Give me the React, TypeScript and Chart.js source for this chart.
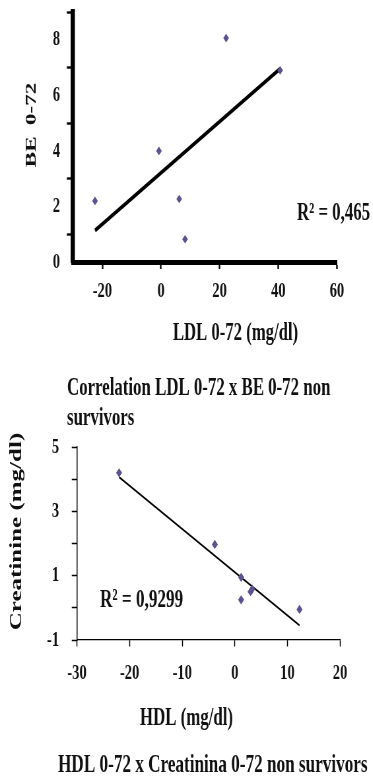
import React, { useEffect, useRef } from 'react';
import { Chart, registerables } from 'chart.js';

Chart.register(...registerables);

// LDL 0-72 vs BE 0-72, non survivors
const ldlValues = [-22.5, -0.7, 6.2, 8.2, 22.2, 40.6];
const beValues = [2.2, 4.0, 2.27, 0.82, 8.06, 6.9];
const ldlTicks = [-20, 0, 20, 40, 60];
const beTicks = [0, 1, 2, 3, 4, 5, 6, 7, 8, 9];
const beTickLabels = [0, 2, 4, 6, 8];
const beR2 = 'R² = 0,465';

// HDL 0-72 vs Creatinine 0-72, non survivors
const hdlValues = [-22.0, -3.8, 1.2, 1.2, 3.0, 3.3, 12.3];
const creatinineValues = [4.2, 1.97, 0.95, 0.25, 0.5, 0.58, -0.05];
const hdlTicks = [-30, -20, -10, 0, 10, 20];
const creatinineTicks = [-1, 0, 1, 2, 3, 4, 5];
const creatinineTickLabels = [-1, 1, 3, 5];
const creatinineR2 = 'R² = 0,9299';

// The figure is printed horizontally condensed: each canvas is drawn wider
// and squeezed back to the page width.
const SQUEEZE = 0.66;
const PAGE_W = 373;
const LOGICAL_W = Math.round(PAGE_W / SQUEEZE);
const sx = (v: number) => v / SQUEEZE;
const FONT = '"Liberation Serif", "Times New Roman", serif';
const INK = '#111';
const MARKER = '#5d5190';

type TextItem = { text: string; x: number; y: number; size: number; align: CanvasTextAlign; rotate?: boolean };

type PanelSpec = {
  height: number;
  xs: number[];
  ys: number[];
  xMin: number;
  xMax: number;
  xTicks: number[];
  yMin: number;
  yMax: number;
  yTicks: number[];
  yLabels: number[];
  yMarkEvery: (v: number) => boolean;
  area: { left: number; right: number; top: number; bottom: number };
  xAxisWidth: number;
  yAxisWidth: number;
  tickWidth: number;
  tickFont: number;
  xTick: { length: number; padding: number };
  yTick: { length: number; padding: number };
  trendWidth: number;
  pointRadius: number;
  texts: TextItem[];
};

function fitLine(xs: number[], ys: number[]) {
  const n = xs.length;
  const mx = xs.reduce((a, b) => a + b, 0) / n;
  const my = ys.reduce((a, b) => a + b, 0) / n;
  let sxy = 0;
  let sxx = 0;
  for (let i = 0; i < n; i++) {
    sxy += (xs[i] - mx) * (ys[i] - my);
    sxx += (xs[i] - mx) * (xs[i] - mx);
  }
  const slope = sxy / sxx;
  const icpt = my - slope * mx;
  const lo = Math.min(...xs);
  const hi = Math.max(...xs);
  return [
    { x: lo, y: icpt + slope * lo },
    { x: hi, y: icpt + slope * hi },
  ];
}

const textPlugin = {
  id: 'freeText',
  afterDraw(chart: any, _args: any, opts: any) {
    const ctx: CanvasRenderingContext2D = chart.ctx;
    const items: TextItem[] = opts.items || [];
    ctx.save();
    ctx.fillStyle = INK;
    ctx.textBaseline = 'middle';
    for (const t of items) {
      ctx.font = `bold ${t.size}px ${FONT}`;
      ctx.textAlign = t.align;
      if (t.rotate) {
        ctx.save();
        ctx.translate(t.x, t.y);
        ctx.rotate(-Math.PI / 2);
        ctx.fillText(t.text, 0, 0);
        ctx.restore();
      } else {
        ctx.fillText(t.text, t.x, t.y);
      }
    }
    ctx.restore();
  },
};

function buildChart(canvas: HTMLCanvasElement, s: PanelSpec) {
  const points = s.xs.map((x, i) => ({ x, y: s.ys[i] }));
  const tickFont = { family: FONT, size: s.tickFont, weight: 'bold' as const };
  return new Chart(canvas, {
    type: 'scatter',
    data: {
      datasets: [
        {
          data: points,
          pointStyle: 'rectRot',
          pointRadius: s.pointRadius,
          backgroundColor: MARKER,
          borderColor: MARKER,
          borderWidth: 0,
          showLine: false,
        },
        {
          data: fitLine(s.xs, s.ys),
          showLine: true,
          borderColor: '#000',
          borderWidth: s.trendWidth,
          pointRadius: 0,
          tension: 0,
        },
      ],
    },
    options: {
      responsive: false,
      animation: false,
      devicePixelRatio: 1,
      events: [],
      layout: {
        padding: { left: 0, top: s.area.top, right: LOGICAL_W - s.area.right, bottom: 0 },
      },
      plugins: {
        legend: { display: false },
        tooltip: { enabled: false },
        title: { display: false },
        freeText: { items: s.texts },
      } as any,
      scales: {
        x: {
          type: 'linear',
          min: s.xMin,
          max: s.xMax,
          afterBuildTicks: (sc: any) => {
            sc.ticks = s.xTicks.map((v) => ({ value: v }));
          },
          afterFit: (sc: any) => {
            sc.height = s.height - s.area.bottom;
            sc.paddingLeft = 0;
            sc.paddingRight = 0;
          },
          ticks: {
            font: tickFont,
            color: INK,
            padding: s.xTick.padding,
            maxRotation: 0,
            autoSkip: false,
            callback: (v: any) => String(v),
          },
          grid: {
            drawOnChartArea: false,
            drawTicks: true,
            tickLength: s.xTick.length,
            tickWidth: s.tickWidth,
            tickColor: '#000',
          },
          border: { display: true, color: '#000', width: s.xAxisWidth },
        },
        y: {
          type: 'linear',
          min: s.yMin,
          max: s.yMax,
          afterBuildTicks: (sc: any) => {
            sc.ticks = s.yTicks.map((v) => ({ value: v }));
          },
          afterFit: (sc: any) => {
            sc.width = s.area.left;
            sc.paddingTop = 0;
            sc.paddingBottom = 0;
          },
          ticks: {
            font: tickFont,
            color: INK,
            padding: s.yTick.padding,
            autoSkip: false,
            callback: (v: any) => (s.yLabels.includes(v) ? String(v) : ''),
          },
          grid: {
            drawOnChartArea: false,
            drawTicks: true,
            tickLength: s.yTick.length,
            tickWidth: s.tickWidth,
            tickColor: (c: any) => (s.yMarkEvery(c.tick.value) ? '#000' : 'rgba(0,0,0,0)'),
          },
          border: { display: true, color: '#000', width: s.yAxisWidth },
        },
      },
    },
    plugins: [textPlugin],
  });
}

const ldlPanel: PanelSpec = {
  height: 430,
  xs: ldlValues,
  ys: beValues,
  xMin: -30,
  xMax: 60,
  xTicks: ldlTicks,
  yMin: 0,
  yMax: 9,
  yTicks: beTicks,
  yLabels: beTickLabels,
  yMarkEvery: (v) => v % 2 !== 0,
  area: { left: sx(73), right: sx(337), top: 12, bottom: 262 },
  xAxisWidth: 5,
  yAxisWidth: 6.5,
  tickWidth: 2.4,
  tickFont: 22,
  xTick: { length: 7, padding: 9 },
  yTick: { length: sx(4) + 3.3, padding: sx(13) - sx(4) - 3.3 },
  trendWidth: 4,
  pointRadius: 4.3,
  texts: [
    { text: 'BE  0-72', x: sx(32), y: 125, size: 23, align: 'center', rotate: true },
    { text: 'LDL 0-72 (mg/dl)', x: sx(235.5), y: 333, size: 25.3, align: 'center' },
    { text: beR2, x: sx(297), y: 213, size: 25.5, align: 'left' },
    { text: 'Correlation LDL 0-72 x BE 0-72 non', x: sx(67), y: 388, size: 25.5, align: 'left' },
    { text: 'survivors', x: sx(67), y: 418, size: 25.5, align: 'left' },
  ],
};

const hdlPanel: PanelSpec = {
  height: 352,
  xs: hdlValues,
  ys: creatinineValues,
  xMin: -30,
  xMax: 20,
  xTicks: hdlTicks,
  yMin: -1,
  yMax: 5,
  yTicks: creatinineTicks,
  yLabels: creatinineTickLabels,
  yMarkEvery: () => true,
  area: { left: sx(77), right: sx(340), top: 17, bottom: 210 },
  xAxisWidth: 1.2,
  yAxisWidth: 1.5,
  tickWidth: 1.5,
  tickFont: 22,
  xTick: { length: 6.5, padding: 13.5 },
  yTick: { length: sx(4.7) + 0.8, padding: sx(18) - sx(4.7) - 0.8 },
  trendWidth: 1.8,
  pointRadius: 4.6,
  texts: [
    { text: 'Creatinine (mg/dl)', x: sx(17), y: 101.5, size: 25, align: 'center', rotate: true },
    { text: 'HDL (mg/dl)', x: sx(186.5), y: 288, size: 25.5, align: 'center' },
    { text: creatinineR2, x: sx(100), y: 170, size: 26, align: 'left' },
    { text: 'HDL 0-72 x Creatinina 0-72 non survivors', x: sx(58), y: 335, size: 26, align: 'left' },
  ],
};

function Panel({ spec }: { spec: PanelSpec }) {
  const ref = useRef<HTMLCanvasElement | null>(null);
  useEffect(() => {
    if (!ref.current) return;
    const chart = buildChart(ref.current, spec);
    return () => chart.destroy();
  }, [spec]);
  return (
    <div
      style={{
        width: LOGICAL_W,
        height: spec.height,
        transform: `scaleX(${SQUEEZE})`,
        transformOrigin: '0 0',
      }}
    >
      <canvas ref={ref} width={LOGICAL_W} height={spec.height} style={{ display: 'block' }} />
    </div>
  );
}

export default function App() {
  return (
    <div
      style={{
        position: 'absolute',
        left: 0,
        top: 0,
        width: PAGE_W,
        height: 782,
        overflow: 'hidden',
        background: '#fff',
      }}
    >
      <Panel spec={ldlPanel} />
      <Panel spec={hdlPanel} />
    </div>
  );
}
